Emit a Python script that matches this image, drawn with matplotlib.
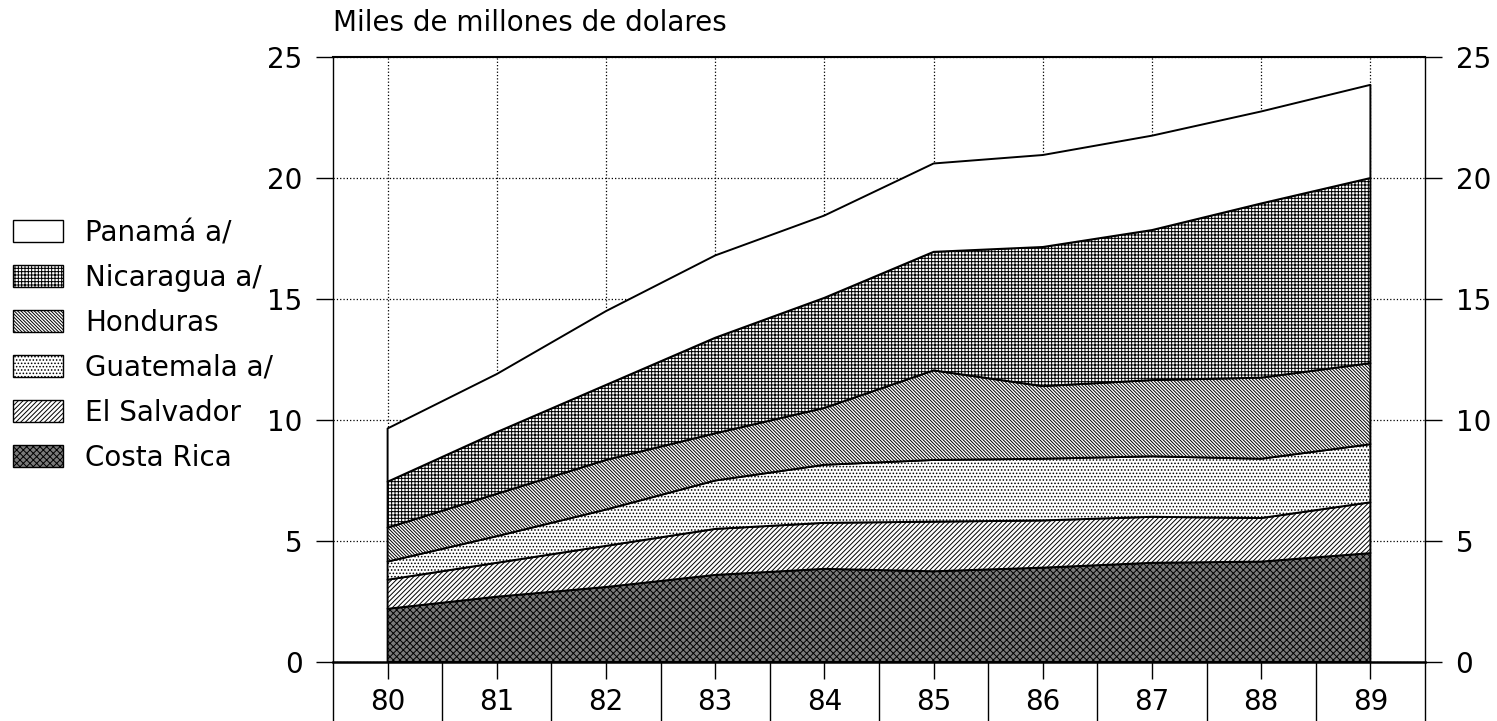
import numpy as np
import matplotlib.pyplot as plt
from matplotlib.patches import Patch

# years (19xx) and values in miles de millones de dolares
years = [80, 81, 82, 83, 84, 85, 86, 87, 88, 89]
costa_rica = [2.2, 2.7, 3.1, 3.6, 3.85, 3.75, 3.9, 4.1, 4.15, 4.5]
el_salvador = [1.2, 1.4, 1.7, 1.9, 1.9, 2.05, 1.95, 1.9, 1.8, 2.1]
guatemala = [0.75, 1.1, 1.5, 2.0, 2.4, 2.55, 2.55, 2.5, 2.45, 2.4]
honduras = [1.4, 1.75, 2.05, 1.95, 2.35, 3.7, 3.0, 3.15, 3.35, 3.35]
nicaragua = [1.9, 2.55, 3.1, 3.95, 4.55, 4.9, 5.75, 6.2, 7.2, 7.65]
panama = [2.2, 2.4, 3.05, 3.4, 3.4, 3.65, 3.8, 3.9, 3.8, 3.85]

labels = ['Costa Rica', 'El Salvador', 'Guatemala a/', 'Honduras', 'Nicaragua a/', 'Panamá a/']
hatches = ['xxxxx', '/' * 7, '.' * 5, '\\' * 10, '+' * 5, '']
faces = ['#7a7a7a', 'white', 'white', 'white', 'white', 'white']

plt.rcParams['hatch.linewidth'] = 0.7
plt.rcParams['font.family'] = 'DejaVu Sans'
fs = 20

fig = plt.figure(figsize=(14.97, 7.21), dpi=100)
ax = fig.add_axes([333/1497, 59/721, 1092/1497, 605/721])

polys = ax.stackplot(years, costa_rica, el_salvador, guatemala, honduras, nicaragua, panama,
                     colors=faces, edgecolor='black', linewidth=1.4)
for p, h in zip(polys, hatches):
    p.set_hatch(h)

ax.set_xlim(79.5, 89.5)
ax.set_ylim(0, 25)
ax.set_xticks(years)
ax.set_xticklabels([str(y) for y in years])
ax.set_xticks(np.arange(79.5, 90, 1), minor=True)
ax.set_yticks([0, 5, 10, 15, 20, 25])

ax.grid(True, which='major', linestyle=':', linewidth=0.9, color='black')
ax.set_axisbelow(True)

ax.tick_params(axis='x', which='major', direction='out', length=12, width=1, pad=7, labelsize=fs)
ax.tick_params(axis='x', which='minor', direction='out', length=45, width=1)
ax.tick_params(axis='y', which='major', direction='out', length=12, width=1, pad=10, labelsize=fs,
               left=True, right=True, labelleft=True, labelright=True)

for s in ax.spines.values():
    s.set_linewidth(1)
ax.spines['bottom'].set_linewidth(1.8)
ax.spines['top'].set_linewidth(1.5)

ax.text(0, 1.033, 'Miles de millones de dolares', transform=ax.transAxes,
        fontsize=fs, ha='left', va='bottom')

handles = [Patch(facecolor=f, edgecolor='black', hatch=h, linewidth=1) for f, h in zip(faces, hatches)]
fig.legend(handles[::-1], labels[::-1], loc='upper left', bbox_to_anchor=(13/1497, 1 - 219/721),
           frameon=False, fontsize=fs, borderpad=0, borderaxespad=0,
           handlelength=1.8, handleheight=0.83, handletextpad=0.8, labelspacing=0.61)

fig.savefig('out.png', dpi=100)
